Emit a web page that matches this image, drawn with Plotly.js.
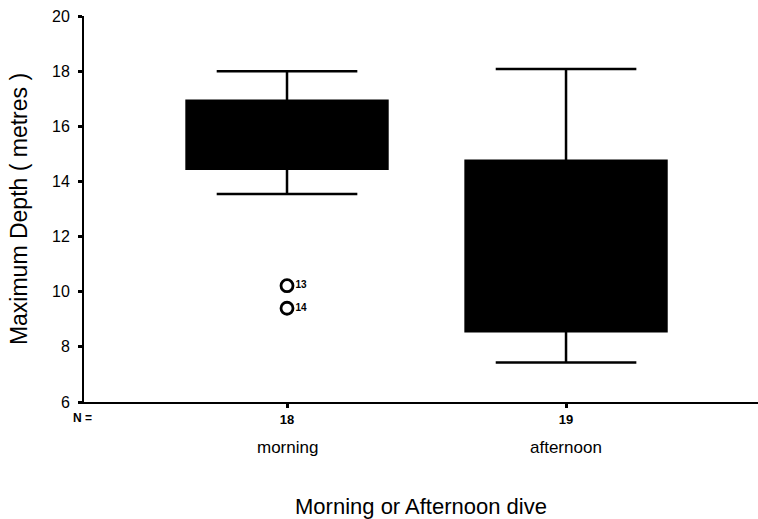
<!DOCTYPE html>
<html>
<head>
<meta charset="utf-8">
<script src="https://cdn.plot.ly/plotly-3.0.1.min.js"></script>
<style>html,body{margin:0;padding:0;background:#fff;}#chart{width:758px;height:519px;}</style>
</head>
<body>
<div id="chart"></div>
<script>
// Data
const categories = ["morning", "afternoon"];
const nCounts = ["18", "19"];
const lowerWhisker = [13.54, 7.43];
const q1 = [14.46, 8.57];
const median = [15.6, 11.5];
const q3 = [16.93, 14.75];
const upperWhisker = [18.0, 18.08];
const outlierCategory = [0, 0];
const outlierValues = [10.22, 9.40];
const outlierLabels = ["13", "14"];
const yTicks = [6, 8, 10, 12, 14, 16, 18, 20];

const FONT = "'Liberation Sans', Arial, Helvetica, sans-serif";
const xIdx = categories.map((c, i) => i);

const traces = [];
traces.push({
  type: "box",
  x: xIdx,
  q1: q1,
  median: median,
  q3: q3,
  lowerfence: lowerWhisker,
  upperfence: upperWhisker,
  width: 0.72,
  whiskerwidth: 0.7,
  fillcolor: "#000",
  line: {color: "#000", width: 2.5},
  boxpoints: false,
  hoverinfo: "skip",
  showlegend: false
});
traces.push({
  type: "scatter",
  mode: "markers+text",
  x: outlierCategory,
  y: outlierValues,
  text: outlierLabels,
  textposition: "middle right",
  textfont: {family: FONT, size: 10, color: "#000", weight: "bold"},
  marker: {symbol: "circle-open", size: 12, color: "#000", line: {width: 2.8, color: "#000"}},
  cliponaxis: false,
  hoverinfo: "skip",
  showlegend: false
});

const annotations = categories.map((c, i) => ({
  text: c, x: i, xref: "x", y: 0, yref: "paper",
  yanchor: "middle", yshift: -45, showarrow: false,
  font: {family: FONT, size: 17, color: "#000"}
}));
annotations.push({
  text: "N =", x: 0, xref: "paper", y: 0, yref: "paper",
  xanchor: "center", yanchor: "middle", xshift: -2, yshift: -16, showarrow: false,
  font: {family: FONT, size: 12, color: "#000", weight: "bold"}
});

const layout = {
  width: 758, height: 519,
  margin: {l: 84, r: 0, t: 16, b: 117},
  paper_bgcolor: "#fff", plot_bgcolor: "#fff",
  font: {family: FONT, color: "#000"},
  showlegend: false,
  xaxis: {
    range: [-0.7276, 1.688],
    tickvals: xIdx, ticktext: nCounts,
    tickfont: {family: FONT, size: 13, color: "#000", weight: "bold"},
    ticks: "outside", ticklen: 4, tickwidth: 3, tickcolor: "#000",
    showline: true, linecolor: "#000", linewidth: 2,
    showgrid: false, zeroline: false,
    title: {text: "Morning or Afternoon dive", font: {family: FONT, size: 22, color: "#000"}, standoff: 73},
    automargin: false
  },
  yaxis: {
    range: [6, 20],
    tickvals: yTicks,
    tickfont: {family: FONT, size: 16, color: "#000"},
    ticks: "outside", ticklen: 4, tickwidth: 3, tickcolor: "#000",
    ticklabelstandoff: 5,
    showline: true, linecolor: "#000", linewidth: 2,
    showgrid: false, zeroline: false,
    title: {text: "Maximum Depth ( metres )", font: {family: FONT, size: 23, color: "#000"}, standoff: 18},
    automargin: false
  },
  annotations: annotations
};

Plotly.newPlot("chart", traces, layout, {staticPlot: true, displayModeBar: false});
</script>
</body>
</html>
